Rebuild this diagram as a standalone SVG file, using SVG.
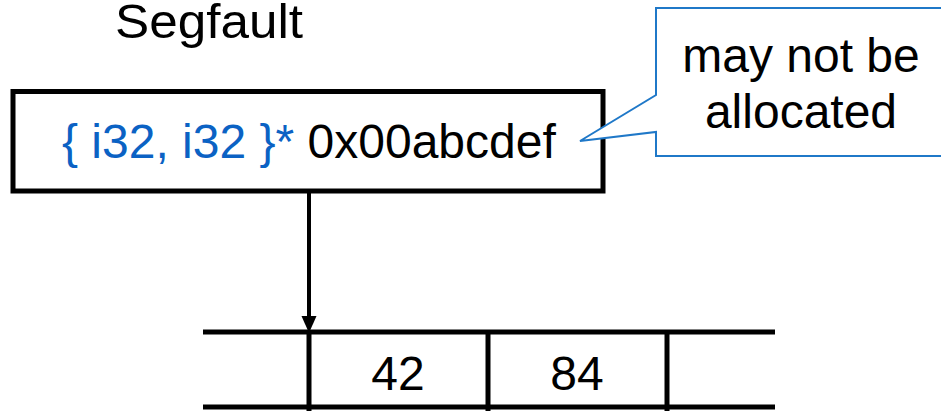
<svg xmlns="http://www.w3.org/2000/svg" width="941" height="411" viewBox="0 0 941 411">
<style>
text{font-family:"Liberation Sans",Arial,sans-serif;font-size:48px;fill:#000}
.blue{fill:#0b62c4}
.thick{stroke:#000;stroke-width:5;fill:none}
</style>
<rect width="941" height="411" fill="#fff"/>
<g id="title"><text x="115" y="38" font-size="49" textLength="188" lengthAdjust="spacingAndGlyphs">Segfault</text></g>
<g id="pointer">
<rect class="thick" x="13" y="91.5" width="590" height="99.5"/>
<text x="62" y="158"><tspan class="blue">{ i32, i32 }*</tspan> 0x00abcdef</text>
</g>
<g id="callout">
<path d="M656,95 L656,8 L950,8 L950,156 L656,156 L656,132 L580,141 Z" fill="#fff" stroke="#1f78c8" stroke-width="2"/>
<text x="801" y="72" text-anchor="middle">may not be</text>
<text x="801" y="128" text-anchor="middle">allocated</text>
</g>
<g id="memory">
<line class="thick" x1="203" y1="332" x2="775" y2="332"/>
<line class="thick" x1="203" y1="407" x2="775" y2="407"/>
<line class="thick" x1="309" y1="332" x2="309" y2="411"/>
<line class="thick" x1="488" y1="332" x2="488" y2="411"/>
<line class="thick" x1="667" y1="332" x2="667" y2="411"/>
<text x="398" y="390" text-anchor="middle">42</text>
<text x="577" y="390" text-anchor="middle">84</text>
</g>
<g id="connectors">
<path d="M309,191 L309,318" stroke="#000" stroke-width="4" fill="none"/>
<path d="M301.5,316 L316.5,316 L309,333 Z" fill="#000"/>
</g>
</svg>
